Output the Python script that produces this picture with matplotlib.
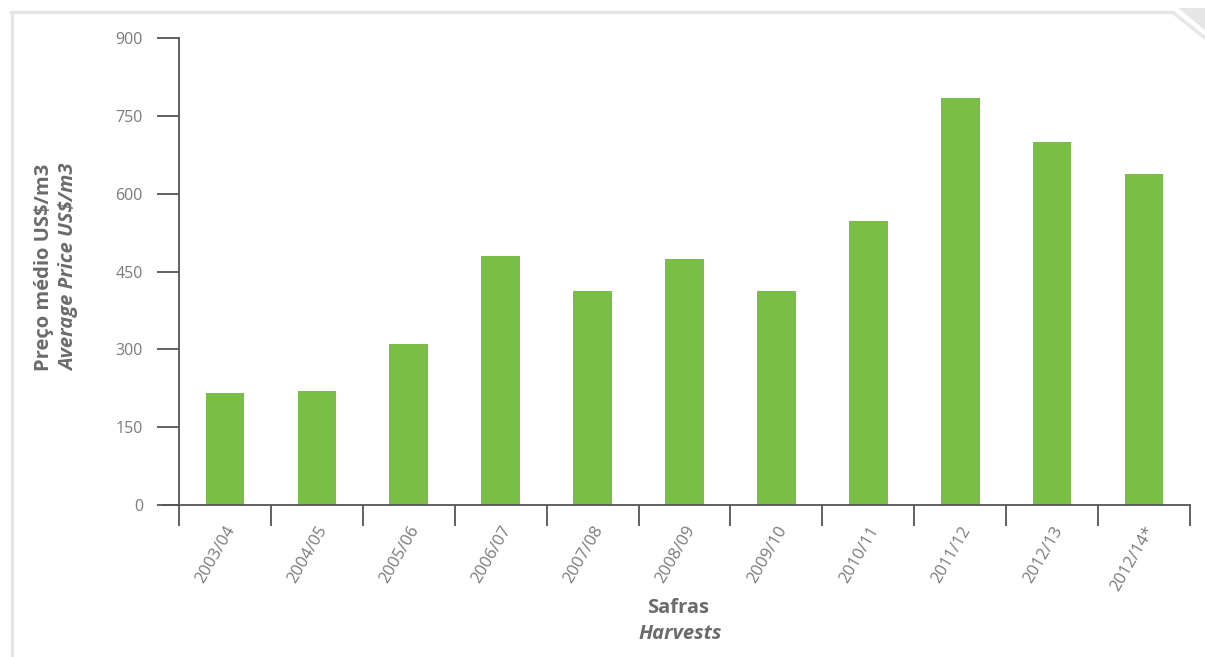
import matplotlib
matplotlib.use("Agg")
import matplotlib.pyplot as plt
from matplotlib.lines import Line2D
from matplotlib.patches import Polygon

categories = ["2003/04", "2004/05", "2005/06", "2006/07", "2007/08", "2008/09",
              "2009/10", "2010/11", "2011/12", "2012/13", "2012/14*"]
values = [215, 220, 310, 480, 413, 475, 413, 548, 785, 700, 638]
yticks = [0, 150, 300, 450, 600, 750, 900]

W, H = 1205, 657
fig = plt.figure(figsize=(W / 100, H / 100), dpi=100)
fig.patch.set_facecolor("white")

def fx(px):
    return px / W

def fy(py):
    return 1 - py / H

ax = fig.add_axes([fx(179), fy(505), fx(1190) - fx(179), fy(38) - fy(505)])
x = list(range(len(categories)))
ax.bar(x, values, width=0.42, color="#79bf45", zorder=2)
ax.set_xlim(-0.5, len(categories) - 0.5)
ax.set_ylim(0, 900)

for s in ["top", "right"]:
    ax.spines[s].set_visible(False)
axis_col = "#555555"
ax.spines["left"].set_color(axis_col)
ax.spines["bottom"].set_color(axis_col)
ax.spines["left"].set_linewidth(1.3)
ax.spines["bottom"].set_linewidth(1.3)

ax.set_yticks(yticks)
ax.set_yticklabels([str(v) for v in yticks], fontsize=11.5, color="#7a7a7a", family="Open Sans")
ax.tick_params(axis="y", length=16, width=1.3, color=axis_col, pad=10)

# x ticks at category boundaries
bounds = [i - 0.5 for i in range(len(categories) + 1)]
ax.set_xticks(bounds, minor=False)
ax.set_xticklabels([""] * len(bounds))
ax.tick_params(axis="x", which="major", length=15, width=1.3, color=axis_col)
ax.set_xticks(x, minor=True)
ax.set_xticklabels(categories, minor=True, rotation=60, ha="right", va="top",
                   rotation_mode="anchor", fontsize=12, color="#7a7a7a", family="Open Sans")
ax.tick_params(axis="x", which="minor", length=0, pad=13)

# extend x-axis left to meet y ticks
ax.plot([-0.5 - 16 / 92, -0.5], [0, 0], color=axis_col, lw=1.3, clip_on=False)

lab_col = "#6b6b6b"
fig.text(fx(44), fy(267), "Preço médio US$/m3", rotation=90, ha="center", va="center",
         fontsize=14.5, fontweight="bold", color=lab_col, family="Open Sans")
fig.text(fx(69), fy(267), "Average Price US$/m3", rotation=90, ha="center", va="center",
         fontsize=14.5, fontweight="bold", fontstyle="italic", color=lab_col, family="Open Sans")
fig.text(fx(678), fy(608), "Safras", ha="center", va="center",
         fontsize=14.5, fontweight="bold", color=lab_col, family="Open Sans")
fig.text(fx(680), fy(634), "Harvests", ha="center", va="center",
         fontsize=14.5, fontweight="bold", fontstyle="italic", color=lab_col, family="Open Sans")

# light gray frame
frame_col = "#e6e6e6"
fig.add_artist(Line2D([fx(11.5), fx(11.5)], [fy(H + 5), fy(12.5)], color=frame_col, lw=2.5,
                      transform=fig.transFigure))
fig.add_artist(Line2D([fx(11.5), fx(1173), fx(1210)], [fy(12.5), fy(12.5), fy(42)],
                      color=frame_col, lw=2.5, transform=fig.transFigure))
fig.add_artist(Polygon([[fx(1178), fy(8)], [fx(1206), fy(8)], [fx(1206), fy(31)]],
                       closed=True, facecolor=frame_col, edgecolor="none",
                       transform=fig.transFigure))

fig.savefig("out.png", dpi=100, facecolor="white")
